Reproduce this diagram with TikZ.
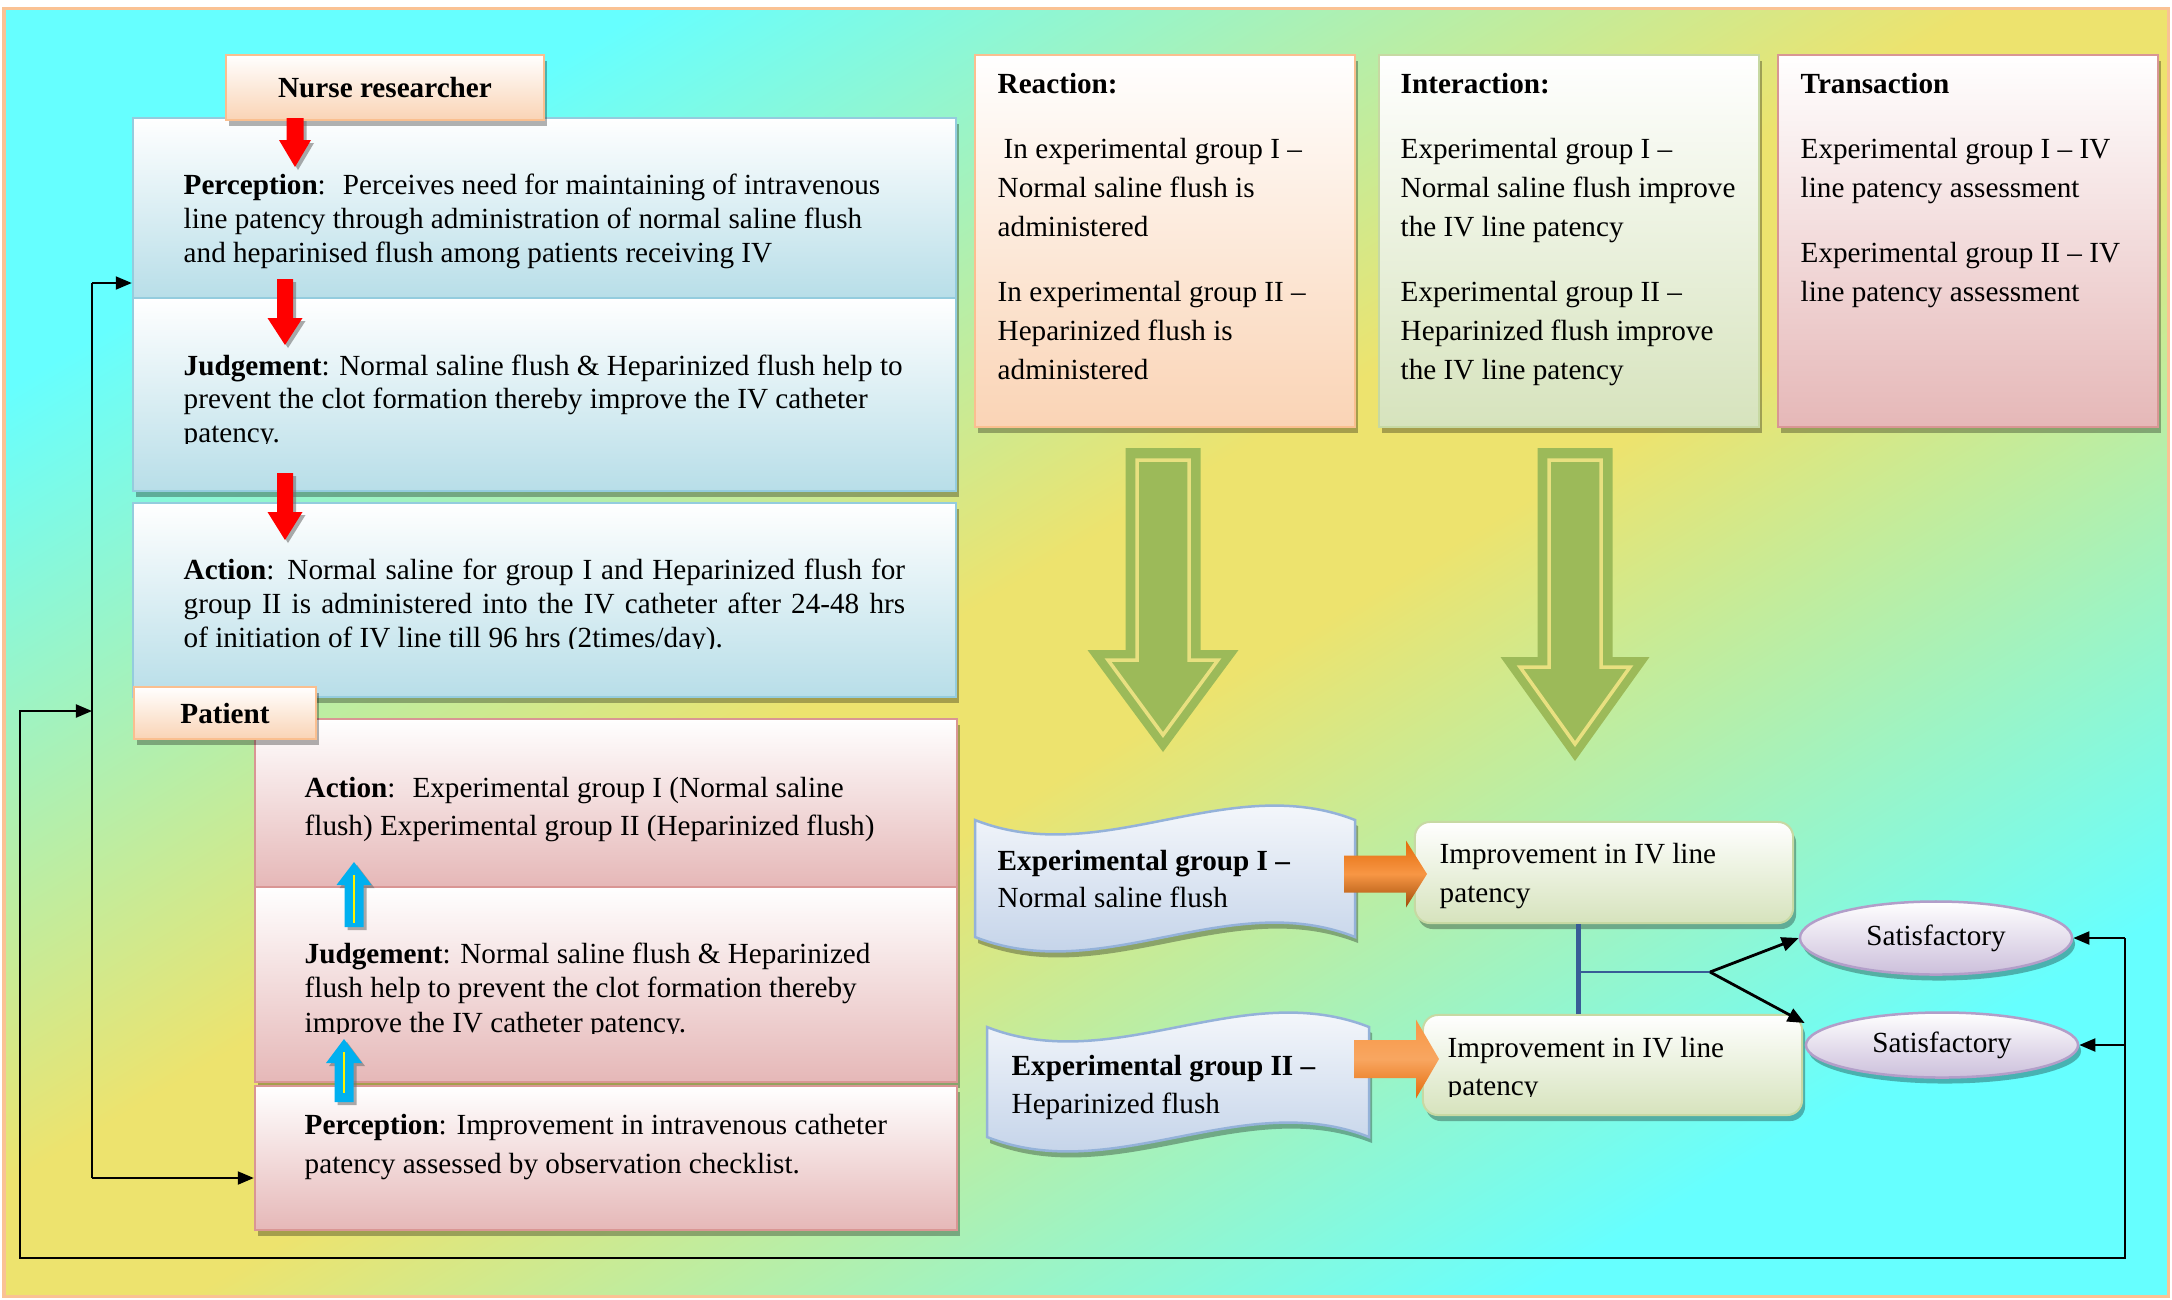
\documentclass[tikz,border=0pt]{standalone}
\usepackage{fontspec}
\setmainfont{Liberation Serif}
\usepackage{tikz}
\usetikzlibrary{arrows.meta, shapes.geometric, shadows}

\definecolor{bgcyan}{rgb}{0.40,1.00,1.00}
\definecolor{bgyellow}{rgb}{0.93,0.89,0.43}
\definecolor{framepeach}{rgb}{0.98,0.76,0.58}
\definecolor{bluefill}{rgb}{0.72,0.87,0.91}
\definecolor{blueline}{rgb}{0.58,0.80,0.87}
\definecolor{pinkfill}{rgb}{0.90,0.72,0.72}
\definecolor{pinkline}{rgb}{0.85,0.59,0.58}
\definecolor{peachfill}{rgb}{0.98,0.83,0.71}
\definecolor{peachline}{rgb}{0.98,0.75,0.56}
\definecolor{greenfill}{rgb}{0.84,0.89,0.74}
\definecolor{greenline}{rgb}{0.78,0.85,0.64}
\definecolor{wavefill}{rgb}{0.73,0.80,0.90}
\definecolor{waveline}{rgb}{0.58,0.70,0.85}
\definecolor{lavfill}{rgb}{0.80,0.75,0.86}
\definecolor{lavline}{rgb}{0.70,0.62,0.79}
\definecolor{arrgreen}{rgb}{0.61,0.73,0.35}
\definecolor{arrgap}{rgb}{0.91,0.88,0.50}
\definecolor{flushorange}{rgb}{0.97,0.59,0.27}
\definecolor{deeporange}{rgb}{0.89,0.42,0.04}
\definecolor{linkblue}{rgb}{0.22,0.36,0.59}
\definecolor{arrcyan}{rgb}{0.00,0.69,0.94}

\pgfdeclareverticalshading{bgdiag}{100bp}{color(0bp)=(bgcyan); color(25bp)=(bgcyan);
  color(47bp)=(bgyellow); color(53bp)=(bgyellow); color(75bp)=(bgcyan); color(100bp)=(bgcyan)}

% vertical block arrow: style, x, tail y, head base y, tip y, shaft half, head half
\newcommand{\vblock}[7]{\path[#1] ({#2-#6},#3) -- ({#2+#6},#3) -- ({#2+#6},#4) -- ({#2+#7},#4)
  -- (#2,#5) -- ({#2-#7},#4) -- ({#2-#6},#4) -- cycle;}
% horizontal block arrow: style, y, tail x, head base x, tip x, shaft half, head half
\newcommand{\hblock}[7]{\path[#1] (#3,{#2-#6}) -- (#4,{#2-#6}) -- (#4,{#2-#7}) -- (#5,#2)
  -- (#4,{#2+#7}) -- (#4,{#2+#6}) -- (#3,{#2+#6}) -- cycle;}

\begin{document}
\begin{tikzpicture}[x=0.01cm, y=-0.01cm,
  font=\fontsize{8.3}{9.7}\selectfont,
  shadowed/.style={drop shadow={shadow xshift=0.03cm, shadow yshift=-0.06cm, fill=black, opacity=0.3}},
  box/.style={line width=0.02cm, inner sep=0pt, shadowed, top color=white},
  bluebox/.style={box, draw=blueline, bottom color=bluefill, minimum width=8.23cm},
  pinkbox/.style={box, draw=pinkline, bottom color=pinkfill},
  peachbox/.style={box, draw=peachline, bottom color=peachfill},
  greenbox/.style={box, draw=greenline, bottom color=greenfill},
  wavebox/.style={draw=waveline, line width=0.025cm, top color=white, bottom color=wavefill, shadowed},
  satnode/.style={ellipse, draw=lavline, line width=0.025cm, top color=white, bottom color=lavfill,
                  shadowed, inner sep=0pt, minimum width=2.72cm},
  txt/.style={anchor=base west, inner sep=0pt, align=flush left, text width=#1},
  sz/.style={font=\fontsize{8.3}{#1}\selectfont},
  fb/.style={line width=0.02cm},
  fbarr/.style={fb, -{Triangle[length=0.16cm, width=0.13cm]}},
  splitarr/.style={line width=0.028cm, -{Triangle[length=0.17cm, width=0.14cm]}},
  flatshadow/.style={drop shadow={shadow xshift=0.03cm, shadow yshift=-0.03cm, fill=black!55, opacity=0.6}},
  redarr/.style={fill=red, flatshadow},
  cyanarr/.style={fill=arrcyan, flatshadow},
  greenarr/.style={fill=arrgreen},
  greenin/.style={fill=arrgreen, draw=arrgap, line width=0.035cm},
  orangeA/.style={top color=deeporange, bottom color=deeporange!70!black, middle color=flushorange},
  orangeB/.style={top color=flushorange, bottom color=deeporange, middle color=flushorange!85!white}
]
% background
\useasboundingbox (0,0) rectangle (2172,1299);
\fill[white] (0,0) rectangle (2172,1299);
\begin{scope}[transform canvas={xscale=1.6801}]
  \shade[shading=bgdiag, shading angle=45] (2.38,8) rectangle (1290.4,1296);
\end{scope}
\draw[framepeach, line width=0.03cm] (4,8) rectangle (2168,1296);

% nurse researcher side
\node[bluebox, minimum height=1.80cm] (perc1) at (544.5,208) {};
\node[bluebox, minimum height=1.93cm] (judg1) at (544.5,394.5) {};
\node[bluebox, minimum height=1.94cm] (act1) at (544.5,600) {};
\node[peachbox, minimum width=3.18cm, minimum height=0.65cm] (nurse) at (385,87.5) {\textbf{Nurse researcher}};

% patient side
\node[pinkbox, minimum width=7.02cm, minimum height=1.68cm] (act2) at (606,803) {};
\node[pinkbox, minimum width=7.02cm, minimum height=1.95cm] (judg2) at (606,984.5) {};
\node[pinkbox, minimum width=7.02cm, minimum height=1.44cm] (perc2) at (606,1158) {};
\node[peachbox, minimum width=1.82cm, minimum height=0.52cm] (patient) at (225,713) {\textbf{Patient}};

% reaction / interaction / transaction
\node[peachbox, minimum width=3.80cm, minimum height=3.72cm] (react) at (1165,241) {};
\node[greenbox, minimum width=3.80cm, minimum height=3.72cm] (inter) at (1569,241) {};
\node[pinkbox, minimum width=3.80cm, minimum height=3.72cm] (trans) at (1968,241) {};

% groups and outcomes
\path[wavebox] (975,820) .. controls (1102,870) and (1228,770) .. (1355,820) -- (1355,937)
  .. controls (1228,887) and (1102,987) .. (975,937) -- cycle;
\path[wavebox] (987,1027) .. controls (1114,1077) and (1242,977) .. (1369,1027) -- (1369,1137)
  .. controls (1242,1087) and (1114,1187) .. (987,1137) -- cycle;
\node[greenbox, rounded corners=0.15cm, minimum width=3.78cm, minimum height=1.01cm] (imp1) at (1604,872.5) {};
\node[greenbox, rounded corners=0.15cm, minimum width=3.79cm, minimum height=1.00cm] (imp2) at (1612.5,1065) {};
\node[satnode, minimum height=0.73cm] (sat1) at (1936,938) {Satisfactory};
\node[satnode, minimum height=0.65cm] (sat2) at (1942,1045) {Satisfactory};

% texts
\node[txt=7.5cm, sz=9.67] (perc1-t) at (183,194)
  {\textbf{Perception}:~ Perceives need for maintaining of intravenous\\line patency through administration of normal saline flush\\and heparinised flush among patients receiving IV};
\begin{scope}
  \clip (133,298) rectangle (956,443);
  \node[txt=7.5cm, sz=9.53] (judg1-t) at (183,375)
    {\textbf{Judgement}: Normal saline flush \& Heparinized flush help to\\prevent the clot formation thereby improve the IV catheter\\patency.};
\end{scope}
\begin{scope}
  \clip (133,503) rectangle (956,648);
  \node[txt=7.21cm, sz=9.67, align=justify] (act1-t) at (183,579)
    {\textbf{Action}: Normal saline for group I and Heparinized flush for\linebreak group II is administered into the IV catheter after 24-48 hrs\linebreak of initiation of IV line till 96 hrs (2times/day).};
\end{scope}
\node[txt=6.4cm, sz=10.81] (act2-t) at (304,797)
  {\textbf{Action}:~ Experimental group I (Normal saline\\flush) Experimental group II (Heparinized flush)};
\begin{scope}
  \clip (255,887) rectangle (957,1033);
  \node[txt=6.4cm, sz=9.82] (judg2-t) at (304,963)
    {\textbf{Judgement}: Normal saline flush \& Heparinized\\flush help to prevent the clot formation thereby\\improve the IV catheter patency.};
\end{scope}
\node[txt=6.4cm, sz=11.1] (perc2-t) at (304,1134)
  {\textbf{Perception}: Improvement in intravenous catheter\\patency assessed by observation checklist.};
\node[txt=3.5cm, sz=11.05] (react-t) at (997,93)
  {\textbf{Reaction:}\\[0.27cm]\hspace*{0.06cm}In experimental group I –\\Normal saline flush is\\administered\\[0.26cm]In experimental group II –\\Heparinized flush is\\administered};
\node[txt=3.5cm, sz=11.05] (inter-t) at (1400,93)
  {\textbf{Interaction:}\\[0.27cm]Experimental group I –\\Normal saline flush improve\\the IV line patency\\[0.26cm]Experimental group II –\\Heparinized flush improve\\the IV line patency};
\node[txt=3.5cm, sz=11.05] (trans-t) at (1800,93)
  {\textbf{Transaction}\\[0.27cm]Experimental group I – IV\\line patency assessment\\[0.26cm]Experimental group II – IV\\line patency assessment};
\node[txt=3.4cm, sz=10.53] (grpI) at (997,870) {\textbf{Experimental group I –}\\Normal saline flush};
\node[txt=3.4cm, sz=10.81] (grpII) at (1011,1075) {\textbf{Experimental group II –}\\Heparinized flush};
\node[txt=3.4cm, sz=11.1] (imp1-t) at (1439,863) {Improvement in IV line\\patency};
\begin{scope}
  \clip (1423,1015) rectangle (1802,1096);
  \node[txt=3.4cm, sz=10.81] (imp2-t) at (1447,1057) {Improvement in IV line\\patency};
\end{scope}

% feedback loop
\coordinate (fbR) at (2125,1258);
\coordinate (fbL) at (20,1258);
\coordinate (inTop) at (92,283);
\coordinate (inMid) at (92,711);
\coordinate (inBot) at (92,1178);
\draw[fbarr] (sat1.east -| fbR) -- (sat1.east);
\draw[fbarr] (sat2.east -| fbR) -- (sat2.east);
\draw[fbarr] (sat1.east -| fbR) -- (fbR) -- (fbL) -- (fbL |- inMid) -- (inMid);
\draw[fb] (inTop) -- (inBot);
\draw[fbarr] (inTop) -- (inTop -| perc1.west);
\draw[fbarr] (inBot) -- (inBot -| perc2.west);

% outcomes to satisfaction
\coordinate (join) at (1578,972);
\coordinate (split) at (1710,972);
\draw[linkblue, line width=0.05cm] (join |- imp1.south) -- (join |- imp2.north);
\draw[linkblue, line width=0.025cm] (join) -- (split);
\draw[splitarr] (split) -- (sat1.west);
\draw[splitarr] (split) -- ([yshift=0.22cm]sat2.west);

% block arrows
\vblock{redarr}{295}{118}{140}{167}{8.5}{16}
\vblock{redarr}{285}{279}{318}{345}{8}{17.5}
\vblock{redarr}{285}{473}{512}{540}{8}{17.5}
\vblock{cyanarr}{354}{927}{885}{862}{9.5}{17.5}
\draw[yellow, line width=0.015cm] (354,875) -- (354,923);
\vblock{cyanarr}{344}{1102}{1063}{1039}{9.5}{18}
\draw[yellow, line width=0.015cm] (344,1052) -- (344,1093);
\vblock{greenarr}{1163}{448}{650}{752}{37.5}{75.5}
\vblock{greenin}{1163}{460}{660}{735}{26}{55}
\vblock{greenarr}{1575}{448}{657}{761}{37.5}{74.5}
\vblock{greenin}{1575}{460}{667}{744}{26}{55}
\hblock{orangeA}{874}{1344}{1406}{1427}{18.5}{33.5}
\hblock{orangeB}{1059}{1354}{1416}{1439}{19}{39.5}
\end{tikzpicture}
\end{document}
